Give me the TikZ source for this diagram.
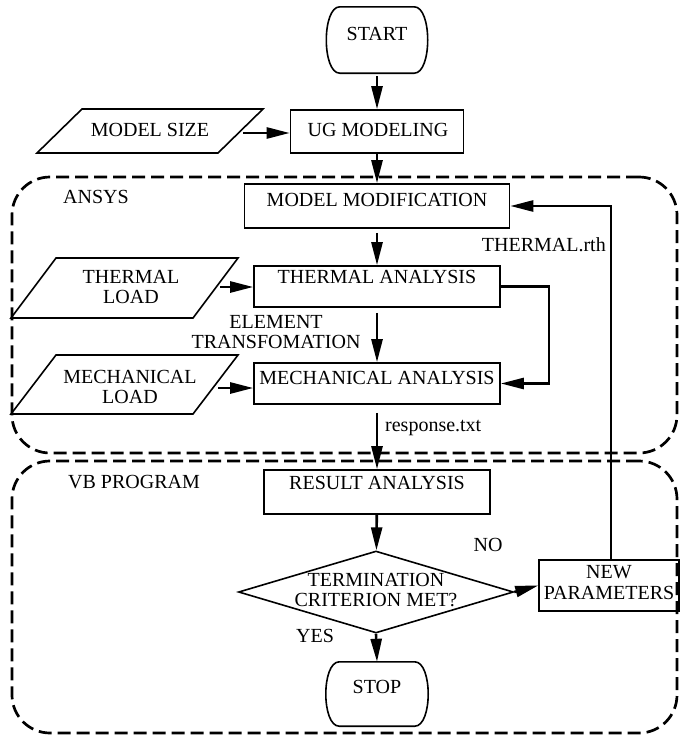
\documentclass[tikz,border=0pt]{standalone}
\usepackage{fontspec}
\setmainfont{Liberation Serif}
\usetikzlibrary{arrows.meta,shapes.geometric}
\begin{document}
\begin{tikzpicture}[x=1pt,y=-1pt,
  box/.style={draw,line width=1.6pt,inner sep=0pt},
  txt/.style={font=\fontsize{20}{20.5}\selectfont,inner sep=0pt,text height=13.2pt,text depth=0pt},
  mtxt/.style={font=\fontsize{20}{20.5}\selectfont,inner sep=0pt,align=center},
  arr/.style={line width=2.6pt,-{Triangle[length=23pt,width=11pt]}},
  region/.style={draw,line width=2.7pt,dash pattern=on 13pt off 6pt,rounded corners=38pt,inner sep=0pt},
  termline/.style={line width=1.6pt},
  para/.style={line width=1.6pt}
]
\useasboundingbox (0,0) rectangle (680,736);

% regions
\node[region,minimum width=665pt,minimum height=276pt] (ansys) at (344.5,315) {};
\node[region,minimum width=665pt,minimum height=272pt] (vb) at (344.5,597) {};
\node[txt] (ansysT) at (96,197) {ANSYS};
\node[txt] (vbT) at (134,482) {VB PROGRAM};

% terminators
\node[inner sep=0pt,minimum width=74pt,minimum height=66pt] (start) at (377,40) {};
\draw[termline] (start.north west) -- (start.north east)
  .. controls +(18,0) and +(18,0) .. (start.south east) -- (start.south west)
  .. controls +(-18,0) and +(-18,0) .. (start.north west) -- cycle;
\node[txt] (startT) at (377,34) {START};

\node[inner sep=0pt,minimum width=75pt,minimum height=64pt] (stop) at (377,694) {};
\draw[termline] (stop.north west) -- (stop.north east)
  .. controls +(18,0) and +(18,0) .. (stop.south east) -- (stop.south west)
  .. controls +(-18,0) and +(-18,0) .. (stop.north west) -- cycle;
\node[txt] (stopT) at (377,687) {STOP};

% process boxes
\node[box,minimum width=173pt,minimum height=43pt] (ug) at (377,131.5) {};
\node[txt] (ugT) at (378,130) {UG MODELING};
\node[box,minimum width=265pt,minimum height=44pt] (mm) at (377,206) {};
\node[txt] (mmT) at (377,200) {MODEL MODIFICATION};
\node[box,minimum width=246pt,minimum height=41pt] (ta) at (377,286.5) {};
\node[txt] (taT) at (377,277) {THERMAL ANALYSIS};
\node[box,minimum width=246pt,minimum height=41pt] (mech) at (377,383.5) {};
\node[txt] (mechT) at (377,378) {MECHANICAL ANALYSIS};
\node[box,minimum width=226pt,minimum height=44pt] (res) at (377,492) {};
\node[txt] (resT) at (377,483) {RESULT ANALYSIS};
\node[box,minimum width=140pt,minimum height=51pt] (np) at (609,585.5) {};
\node[mtxt] (npT) at (609,582.5) {NEW\\PARAMETERS};

% decision
\node[draw,line width=1.6pt,shape=diamond,inner sep=0pt,minimum width=275pt,minimum height=82pt] (dec) at (376,592) {};
\node[mtxt] (decT) at (376,590) {TERMINATION\\CRITERION MET?};

% input parallelograms
\draw[para] (37,153) -- (82,109) -- (263,109) -- (218,153) -- cycle;
\node[txt] (msT) at (150,130) {MODEL SIZE};
\coordinate (msOut) at (243,133);
\draw[para] (11,318) -- (56,258) -- (238,258) -- (193,318) -- cycle;
\node[mtxt] (tlT) at (131,287) {THERMAL\\LOAD};
\coordinate (tlOut) at (220,287);
\draw[para] (11,414) -- (56,355) -- (238,355) -- (193,414) -- cycle;
\node[mtxt] (mlT) at (130,387) {MECHANICAL\\LOAD};
\coordinate (mlOut) at (218,388);

% labels
\node[txt,anchor=east] (rthT) at (606,245) {THERMAL.rth};
\node[mtxt] (elT) at (276,332) {ELEMENT\\TRANSFOMATION};
\node[txt,anchor=west] (respT) at (385,425) {response.txt};
\node[txt] (noT) at (488,545) {NO};
\node[txt] (yesT) at (315,636) {YES};

% connectors
\draw[arr,shorten <=3pt] (start) -- (ug);
\draw[arr] (msOut) -- (msOut -| ug.west);
\draw[arr] (ug) -- (mm);
\draw[arr,shorten <=4pt] (mm) -- (ta);
\draw[arr] (tlOut) -- (tlOut -| ta.west);
\draw[arr,shorten <=5pt] (ta) -- (mech);
\draw[arr] (mlOut) -- (mlOut -| mech.west);
\draw[arr] (ta.east) -- ++(48,0) |- (mech.east);
\draw[arr,shorten <=8pt] (mech) -- (res);
\draw[arr] (res) -- (dec);
\draw[arr] (dec.east) -- (np.west);
\draw[arr] (dec.south) -- (stop.north);
\draw[arr] ([xshift=2pt]np.north) |- (mm.east);
\end{tikzpicture}
\end{document}
